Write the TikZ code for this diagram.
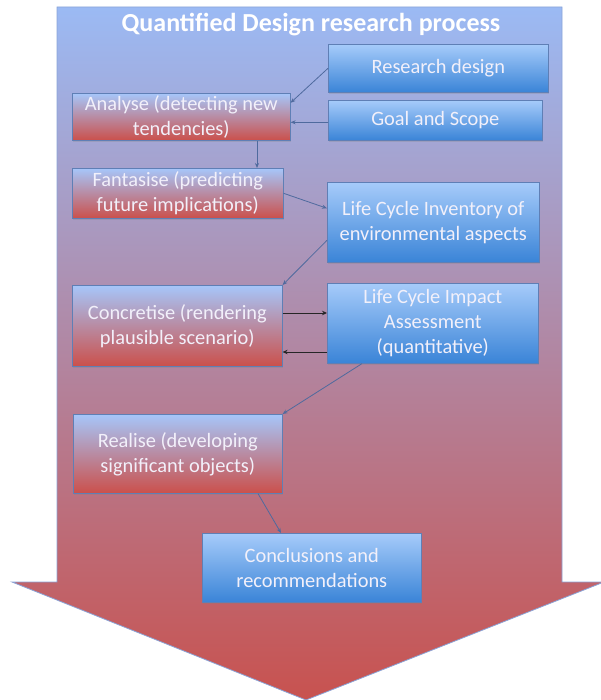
\documentclass[tikz,border=0pt]{standalone}
\usepackage{fontspec}
\setmainfont{Carlito}
\usetikzlibrary{arrows.meta,shadows,calc}
\definecolor{bigtop}{HTML}{9BBAF4}
\definecolor{bigmid}{HTML}{B5A5D4}
\definecolor{bigbot}{HTML}{C8524F}
\definecolor{bigborder}{HTML}{8AA4D8}
\definecolor{bluetop}{HTML}{A6CBFA}
\definecolor{bluebot}{HTML}{3A84D7}
\definecolor{redtop}{HTML}{A6C6FA}
\definecolor{redmid}{HTML}{BEA6D4}
\definecolor{redbot}{HTML}{CB504B}
\definecolor{boxborder}{HTML}{5F7FB5}
\definecolor{boxtext}{HTML}{F2F0FA}
\definecolor{conncol}{HTML}{4F6A9E}
\begin{document}
\begin{tikzpicture}[x=1pt,y=-1pt,
  bluebox/.style={draw=boxborder, line width=0.6pt, top color=bluetop, bottom color=bluebot,
    text=boxtext, align=center, font=\fontsize{20.4}{25}\selectfont, inner sep=0pt,
    anchor=north west, drop shadow={opacity=0.25,shadow xshift=1pt,shadow yshift=-1.5pt}},
  redbox/.style={bluebox, top color=redtop, middle color=redmid, bottom color=redbot},
  conn/.style={draw=conncol, line width=0.8pt, -{Stealth[length=5pt,width=4pt]}},
  darkconn/.style={draw=black!85, line width=1pt, -{Stealth[length=5pt,width=4.5pt]}}
]
\useasboundingbox (0,0) rectangle (601,700);
% big arrow
\path[draw=bigborder, line width=0.8pt, top color=bigtop, middle color=bigmid, bottom color=bigbot]
  (57,7) -- (562,7) -- (562,582) -- (604,582) -- (306,700) -- (12,582) -- (57,582) -- cycle;
\node[text=white, font=\bfseries\fontsize{26}{30}\selectfont] (title) at (311,25) {Quantified Design research process};
% boxes
\node[bluebox, minimum width=220pt, minimum height=48pt] (rd) at (328,44) {Research design};
\node[bluebox, minimum width=214pt, minimum height=40pt] (gs) at (328,100) {Goal and Scope};
\node[redbox, minimum width=218pt, minimum height=47pt] (an) at (72,93) {Analyse (detecting new\\tendencies)};
\node[redbox, minimum width=211pt, minimum height=50pt] (fa) at (72,168) {Fantasise (predicting\\future implications)};
\node[bluebox, minimum width=212pt, minimum height=80pt] (lci) at (327,182) {Life Cycle Inventory of\\environmental aspects};
\node[redbox, minimum width=210pt, minimum height=81pt] (co) at (72,285) {Concretise (rendering\\plausible scenario)};
\node[bluebox, minimum width=211pt, minimum height=80pt] (lcia) at (327,283) {Life Cycle Impact\\Assessment\\(quantitative)};
\node[redbox, minimum width=209pt, minimum height=79pt] (re) at (73,414) {Realise (developing\\significant objects)};
\node[bluebox, minimum width=219pt, minimum height=69pt] (cc) at (202,533) {Conclusions and\\recommendations};
% connectors
\draw[conn] (rd.west) -- ([yshift=14pt]an.east);
\draw[conn] ([yshift=-2pt]gs.west) -- ([yshift=-2pt]gs.west -| an.east);
\draw[conn] (an.south -| 257,0) -- (fa.north -| 257,0);
\draw[conn] (fa.east) -- ([yshift=14pt]lci.west);
\draw[conn] ([yshift=-18pt]lci.west) -- (co.north east);
\draw[darkconn] (co.east |- 0,313) -- (lcia.west |- 0,313);
\draw[darkconn] (lcia.west |- 0,352) -- (co.east |- 0,352);
\draw[conn] (lcia.south -| 362,0) -- (re.north east);
\draw[conn] (re.south -| 258,0) -- (cc.north -| 281,0);
\end{tikzpicture}
\end{document}
